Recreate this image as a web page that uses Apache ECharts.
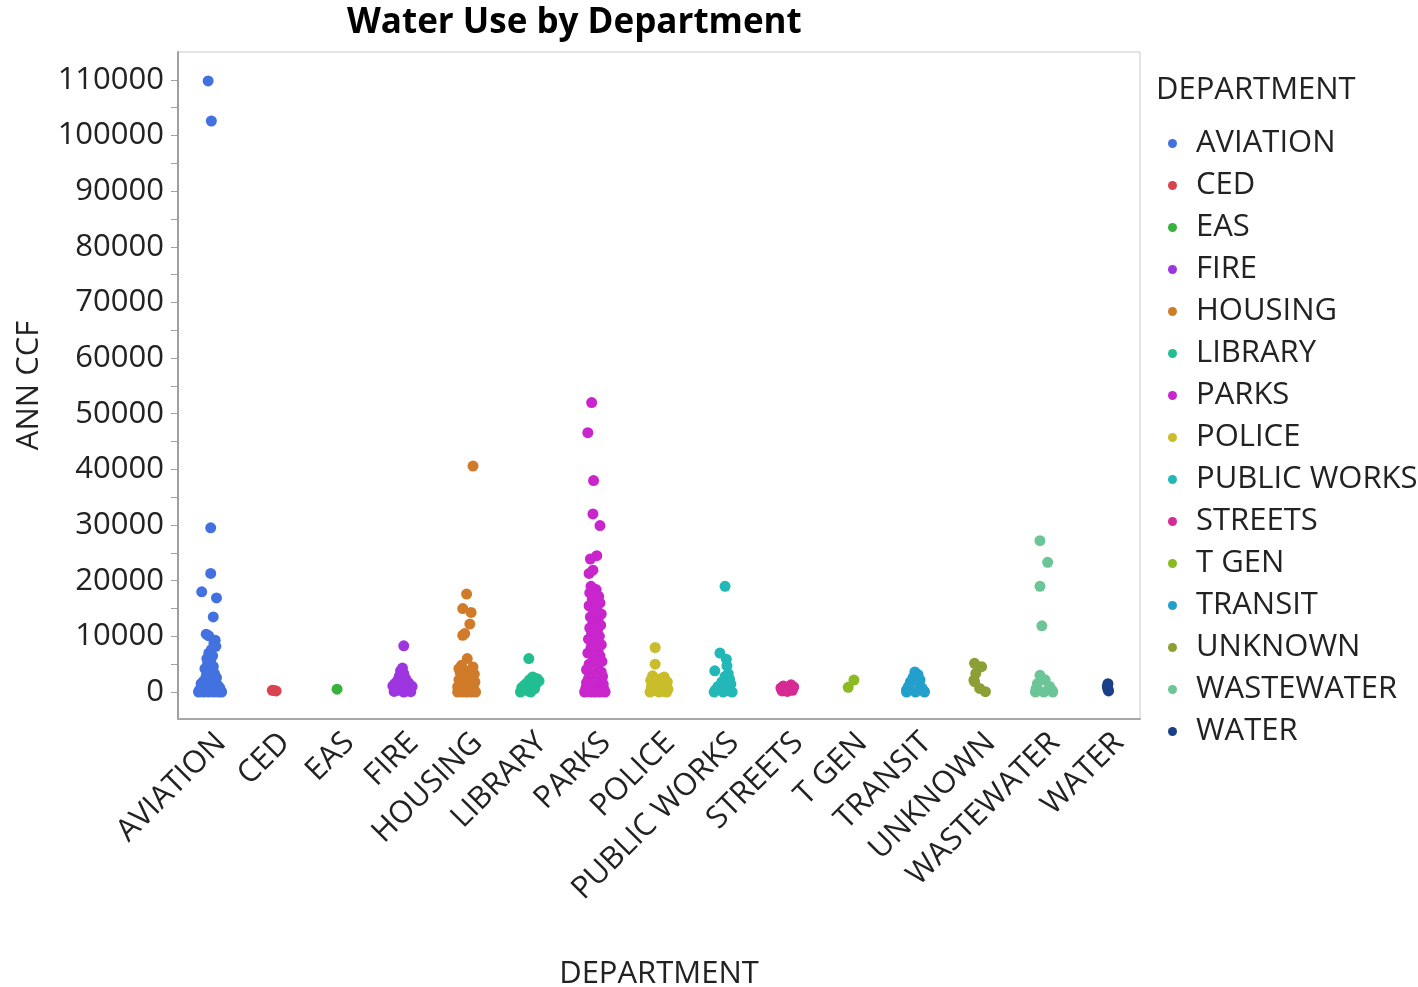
<!DOCTYPE html>
<html>
<head>
<meta charset="utf-8">
<script src="https://cdn.jsdelivr.net/npm/echarts@6/dist/echarts.min.js"></script>
<style>
html,body{margin:0;padding:0;background:#fff;}
#chart{width:1418px;height:987px;}
</style>
</head>
<body>
<div id="chart"></div>
<script>
// ---- Data ----
const departments = ['AVIATION','CED','EAS','FIRE','HOUSING','LIBRARY','PARKS','POLICE','PUBLIC WORKS','STREETS','T GEN','TRANSIT','UNKNOWN','WASTEWATER','WATER'];
const colors = ['#4372E0','#D9434F','#35B33A','#9D35E0','#D07B2A','#22BE92','#C925CC','#C9BD2B','#22B8B8','#D62A95','#8BBA22','#239FCB','#8AA034','#6CC596','#1B3F86'];
const yTickLabels = [0,10000,20000,30000,40000,50000,60000,70000,80000,90000,100000,110000];
const yMinorTicks = [0,5000,10000,15000,20000,25000,30000,35000,40000,45000,50000,55000,60000,65000,70000,75000,80000,85000,90000,95000,100000,105000,110000];

// ANN CCF values per department, with jitter offsets (in category widths) as seen in the picture
const AVIATION_CCF = [109800,102600,29500,21300,18000,16900,13500,10400,10100,9300,8700,8200,7600,7000,6500,6000,5600,5000,4600,4200,3700,3300,2900,2600,2300,2000,1800,1500,1200,1000,800,600,500,300,200,150,100,50,0,0,0,0,0,0];
const AVIATION_JIT = [-0.03,0.02,0.01,0.01,-0.13,0.10,0.05,-0.06,-0.02,0.08,0.06,0.09,0.02,-0.02,0.04,-0.05,0.01,-0.04,0.05,-0.08,0.00,0.07,-0.06,0.10,0.03,-0.10,0.06,-0.14,0.12,-0.04,0.15,-0.12,0.04,-0.17,0.17,-0.08,0.09,-0.15,0.13,-0.02,0.18,-0.18,0.06,-0.10];
const CED_CCF = [300,250,200];
const CED_JIT = [-0.03,0.00,0.03];
const EAS_CCF = [500];
const EAS_JIT = [-0.02];
const FIRE_CCF = [8300,4300,3800,3300,2800,2400,2000,1700,1500,1300,1100,1000,900,800,600,500,400,300,200,100,50,0];
const FIRE_JIT = [0.02,0.00,-0.03,0.02,-0.05,0.05,-0.08,0.09,-0.12,0.12,-0.15,0.15,-0.05,0.06,-0.10,0.10,0.00,-0.07,0.07,-0.13,0.13,0.02];
const HOUSING_CCF = [40600,17600,15000,14300,12200,10500,10200,6000,4800,4500,4200,3800,3500,3200,2800,2500,2200,1800,1500,1200,900,600,400,200,0,0,0,0,0];
const HOUSING_JIT = [0.10,0.00,-0.06,0.07,0.05,-0.03,-0.06,0.01,-0.08,0.10,-0.12,0.04,-0.10,0.12,-0.02,0.08,-0.12,0.13,-0.04,0.06,-0.14,0.11,-0.08,0.02,-0.14,0.14,0.00,-0.07,0.07];
const LIBRARY_CCF = [6000,2700,2400,2200,2000,1800,1600,1400,1200,1000,800,600,400,200,0,0];
const LIBRARY_JIT = [-0.03,0.03,0.10,-0.02,0.13,0.05,-0.06,0.08,-0.10,0.02,-0.14,0.06,-0.12,-0.04,-0.16,0.00];
const PARKS_CCF = [52000,46600,38000,32000,29900,24500,23900,21900,21300,19000,18400,17800,17200,16600,16000,15500,15000,14500,14000,13500,13000,12500,12000,11500,11000,10500,10000,9500,9000,8500,8000,7500,7000,6500,6000,5500,5000,4500,4000,3600,3200,2800,2400,2000,1700,1400,1100,900,700,500,350,200,100,50,0,0,0,0,0];
const PARKS_JIT = [-0.05,-0.11,-0.02,-0.03,0.08,0.03,-0.07,-0.03,-0.09,-0.06,0.02,-0.08,0.06,-0.04,0.08,-0.09,0.03,-0.02,0.10,-0.07,0.05,-0.03,0.09,-0.08,0.04,-0.05,0.07,-0.10,0.02,0.10,-0.06,0.05,-0.11,0.08,-0.02,0.11,-0.09,0.04,-0.13,0.10,-0.05,0.12,-0.10,0.06,-0.13,0.13,-0.03,0.08,-0.14,0.14,-0.07,0.04,-0.12,0.11,-0.16,0.16,0.00,-0.06,0.07];
const POLICE_CCF = [8000,5000,2900,2700,2400,2100,1800,1500,1200,900,700,500,300,100,0,0,0];
const POLICE_JIT = [-0.06,-0.06,-0.10,0.08,0.02,-0.13,0.13,-0.05,0.10,-0.12,0.04,0.14,-0.08,0.07,-0.14,0.00,0.12];
const PUBLICWORKS_CCF = [19000,7000,5900,4700,3800,3300,2800,2300,1800,1400,1000,700,400,200,0,0,0];
const PUBLICWORKS_JIT = [0.03,-0.05,0.05,0.06,-0.13,0.08,0.03,0.10,-0.02,0.12,-0.08,0.06,-0.12,0.10,-0.14,0.00,0.14];
const STREETS_CCF = [1300,1100,900,700,500,300,200,100];
const STREETS_JIT = [0.06,-0.06,0.10,-0.10,0.02,0.08,-0.08,0.00];
const TGEN_CCF = [2150,850];
const TGEN_JIT = [0.04,-0.05];
const TRANSIT_CCF = [3600,3100,2600,2200,1800,1400,1000,700,400,200,0,0,0];
const TRANSIT_JIT = [-0.01,0.04,-0.04,0.07,-0.08,0.06,-0.11,0.10,-0.14,0.13,-0.14,0.00,0.14];
const UNKNOWN_CCF = [5150,4550,3350,2150,1850,650,50];
const UNKNOWN_JIT = [-0.08,0.03,-0.06,-0.09,-0.08,0.00,0.09];
const WASTEWATER_CCF = [27200,23300,19000,11900,3000,2200,1500,1000,600,300,0,0,0];
const WASTEWATER_JIT = [-0.06,0.06,-0.06,-0.03,-0.06,0.02,-0.10,0.09,-0.12,0.13,-0.13,0.00,0.14];
const WATER_CCF = [1500,1000,500,200];
const WATER_JIT = [0.00,-0.01,0.00,0.01];

const valueLists = [AVIATION_CCF,CED_CCF,EAS_CCF,FIRE_CCF,HOUSING_CCF,LIBRARY_CCF,PARKS_CCF,POLICE_CCF,PUBLICWORKS_CCF,STREETS_CCF,TGEN_CCF,TRANSIT_CCF,UNKNOWN_CCF,WASTEWATER_CCF,WATER_CCF];
const jitterLists = [AVIATION_JIT,CED_JIT,EAS_JIT,FIRE_JIT,HOUSING_JIT,LIBRARY_JIT,PARKS_JIT,POLICE_JIT,PUBLICWORKS_JIT,STREETS_JIT,TGEN_JIT,TRANSIT_JIT,UNKNOWN_JIT,WASTEWATER_JIT,WATER_JIT];

// ---- Chart ----
const FONT = 'Open Sans';
const FS = 31;
const chart = echarts.init(document.getElementById('chart'), null, {renderer:'canvas'});

const series = departments.map((name, k) => ({
  name: name,
  type: 'scatter',
  xAxisIndex: 1,
  yAxisIndex: 0,
  symbol: 'circle',
  symbolSize: 11,
  itemStyle: {color: colors[k], opacity: 1},
  data: valueLists[k].map((v, i) => [k + jitterLists[k][i], v])
}));

const option = {
  animation: false,
  backgroundColor: '#ffffff',
  textStyle: {fontFamily: FONT},
  title: [
    {text: 'Water Use by Department', left: 342, top: 1,
     textStyle: {fontFamily: FONT, fontWeight: 'bold', fontSize: 35, color: '#000'}},
    {text: 'DEPARTMENT', left: 1151, top: 70,
     textStyle: {fontFamily: FONT, fontWeight: 'normal', fontSize: FS, color: '#222'}}
  ],
  legend: {
    orient: 'vertical',
    left: 1163, top: 123,
    icon: 'circle',
    itemWidth: 9, itemHeight: 9,
    itemGap: 11,
    data: departments,
    textStyle: {fontFamily: FONT, fontSize: FS, color: '#222', lineHeight: 31, padding: [0,0,0,14]}
  },
  grid: {
    left: 178, top: 52, right: 278, bottom: 268,
    outerBoundsMode: 'none',
    containLabel: false,
    show: true, borderColor: '#c8c8c8', borderWidth: 1, backgroundColor: 'transparent'
  },
  xAxis: [
    {
      type: 'category',
      data: departments,
      boundaryGap: true,
      name: 'DEPARTMENT',
      nameLocation: 'middle',
      nameGap: 240,
      nameTextStyle: {fontFamily: FONT, fontSize: FS, color: '#222'},
      axisLine: {show: true, onZero: false, lineStyle: {color: '#a8a8a8', width: 2}},
      axisTick: {show: false},
      axisLabel: {rotate: 45, fontFamily: FONT, fontSize: FS, color: '#222', margin: 8, interval: 0, verticalAlign: 'top'},
      splitLine: {show: false}
    },
    {
      type: 'value',
      min: -0.5, max: 14.5,
      show: false,
      axisLine: {onZero: false},
      splitLine: {show: false}
    }
  ],
  yAxis: [
    {
      type: 'value',
      min: -4850, max: 115000,
      name: 'ANN CCF',
      nameLocation: 'middle',
      nameGap: 133,
      nameTextStyle: {fontFamily: FONT, fontSize: FS, color: '#222'},
      axisLine: {show: true, onZero: false, lineStyle: {color: '#a0a0a0', width: 2}},
      axisTick: {show: true, length: 7, customValues: yMinorTicks, lineStyle: {color: '#a0a0a0', width: 1}},
      axisLabel: {customValues: yTickLabels, fontFamily: FONT, fontSize: FS, color: '#222', margin: 14,
                  formatter: v => String(v)},
      splitLine: {show: false}
    }
  ],
  series: series
};
chart.setOption(option);
</script>
</body>
</html>
